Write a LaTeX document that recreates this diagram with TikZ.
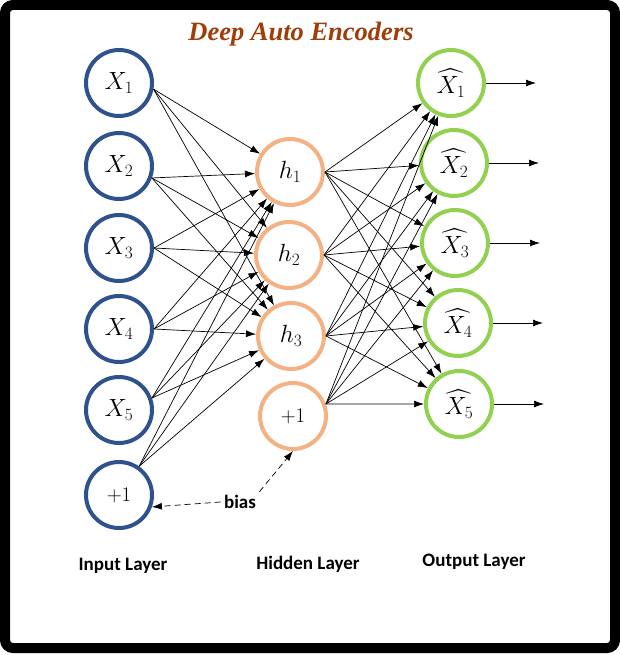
\documentclass[tikz,border=0pt]{standalone}
\usepackage{amsmath}
\usepackage{fontspec}
\newfontfamily\labelfont{Carlito}
\newfontfamily\titlefont{Liberation Serif}
\usetikzlibrary{arrows.meta}
\definecolor{inblue}{RGB}{47,82,143}
\definecolor{hidorange}{RGB}{244,177,131}
\definecolor{outgreen}{RGB}{146,208,80}
\definecolor{titlebrown}{RGB}{158,62,10}

\begin{document}
\begin{tikzpicture}[x=1pt,y=-1pt,
        neuron/.style={circle,line width=4pt,minimum size=66pt,inner sep=0pt,font=\fontsize{24}{27}\selectfont},
        link/.style={-{Latex[length=10pt,width=7pt]},line width=0.7pt},
        layer/.style={font=\labelfont\bfseries\fontsize{19}{22}\selectfont}]
        \useasboundingbox (0,0) rectangle (620,655);
        % Draw frame
        \draw[line width=10pt,rounded corners=8pt] (5,5) rectangle (615,648);
        \node[text=titlebrown,font=\titlefont\bfseries\itshape\fontsize{26.5}{30}\selectfont] (title) at (301,34) {Deep Auto Encoders};

        % Draw input layer
        \foreach \i/\y in {1/83,2/166,3/248,4/329,5/410}
            \node[neuron,draw=inblue] (x\i) at (119,\y) {$X_\i$};
        \node[neuron,draw=inblue,font=\fontsize{21}{24}\selectfont] (xb) at (119,495) {$+1$};

        % Draw hidden layer
        \foreach \j/\x/\y in {1/290/172,2/289/255,3/291/336}
            \node[neuron,draw=hidorange] (h\j) at (\x,\y) {$h_\j$};
        \node[neuron,draw=hidorange,font=\fontsize{21}{24}\selectfont] (hb) at (293,416) {$+1$};

        % Draw output layer
        \foreach \k/\x/\y in {1/451/83,2/454/163,3/455/243,4/458/323,5/459/404}
            \node[neuron,draw=outgreen] (o\k) at (\x,\y) {$\widehat{X_\k}$};

        % Draw links
        \foreach \i/\a in {1/-10,2/-20,3/0,4/0,5/20,b/55}
            \foreach \j in {1,2,3}
                \draw[link] (x\i.\a) -- (h\j);
        \foreach \j/\a in {1/0,2/0,3/0,b/20}
            \foreach \k in {1,...,5}
                \draw[link] (h\j.\a) -- (o\k);
        \foreach \k in {1,...,5} {
            \path (o\k.east) ++(50,0) coordinate (y\k);
            \draw[link] (o\k) -- (y\k);
        }

        % Bias
        \node[layer] (bias) at (240,502) {bias};
        \draw[link,dash pattern=on 6pt off 4pt] (bias.west) -- (xb.-20);
        \draw[link,dash pattern=on 6pt off 4pt] (bias.north east) -- (hb.south);

        % Layer names
        \node[layer] (inname) at (123,566) {Input Layer};
        \node[layer] (hidname) at (308,564) {Hidden Layer};
        \node[layer] (outname) at (474,562) {Output Layer};
    \end{tikzpicture}
\end{document}
